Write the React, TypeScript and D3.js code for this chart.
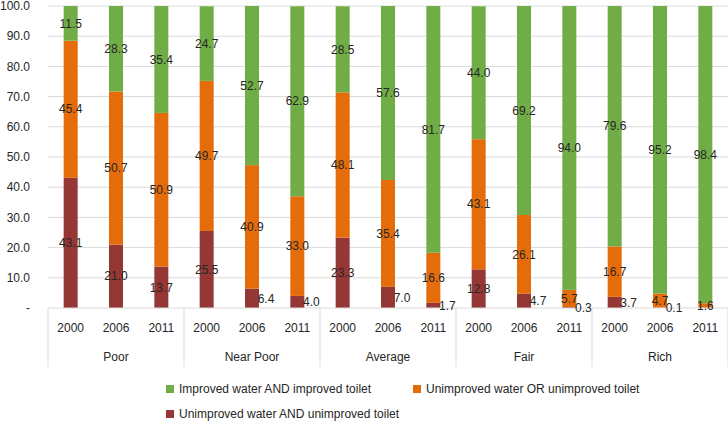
import React from "react";
import * as d3 from "d3";

const groups = ["Poor", "Near Poor", "Average", "Fair", "Rich"];
const years = ["2000", "2006", "2011"];

// per bar, order: Poor 2000, 2006, 2011, Near Poor 2000 ...
const unimprovedBoth = [43.1, 21.0, 13.7, 25.5, 6.4, 4.0, 23.3, 7.0, 1.7, 12.8, 4.7, 0.3, 3.7, 0.1, 0];
const unimprovedEither = [45.4, 50.7, 50.9, 49.7, 40.9, 33.0, 48.1, 35.4, 16.6, 43.1, 26.1, 5.7, 16.7, 4.7, 1.6];
const improvedBoth = [11.5, 28.3, 35.4, 24.7, 52.7, 62.9, 28.5, 57.6, 81.7, 44.0, 69.2, 94.0, 79.6, 95.2, 98.4];

const seriesNames = [
  "Unimproved water AND unimproved toilet",
  "Unimproved water OR unimproved toilet",
  "Improved water AND improved toilet",
];
const colors = ["#953735", "#E46C0A", "#70AD47"];
const yTicks = [0, 10, 20, 30, 40, 50, 60, 70, 80, 90, 100];

const width = 728;
const height = 422;
const margin = { top: 6, right: 0, bottom: 114, left: 48 };
const font = "'Liberation Sans', Arial, sans-serif";
const textColor = "#262626";

const App = () => {
  const bars = groups.flatMap((g) => years.map((y) => `${g}|${y}`));
  const rows = bars.map((key, i) => ({
    key,
    s0: unimprovedBoth[i],
    s1: unimprovedEither[i],
    s2: improvedBoth[i],
  }));
  const stack = d3.stack<any>().keys(["s0", "s1", "s2"])(rows);

  const x = d3
    .scaleBand()
    .domain(bars)
    .range([margin.left, width - margin.right]);
  const y = d3
    .scaleLinear()
    .domain([0, 100])
    .range([height - margin.bottom, margin.top]);
  const bw = 14;
  const y0 = y(0);
  const step = x.step();

  return (
    <svg
      width={width}
      height={height}
      style={{ position: "absolute", left: 0, top: 0, fontFamily: font }}
    >
      <rect width={width} height={height} fill="#fff" />
      {yTicks.map((t) => (
        <g key={t}>
          {t > 0 && (
            <line x1={margin.left} x2={width - margin.right} y1={y(t)} y2={y(t)} stroke="#d9d9d9" />
          )}
          <text x={30} y={y(t)} dy="0.35em" textAnchor="end" fontSize={12} fill={textColor}>
            {t === 0 ? "-" : t.toFixed(1)}
          </text>
        </g>
      ))}

      {stack.map((layer, si) =>
        layer.map((d, i) => {
          const key = bars[i];
          const cx = (x(key) as number) + x.bandwidth() / 2;
          return (
            <rect
              key={si + key}
              x={cx - bw / 2}
              y={y(d[1])}
              width={bw}
              height={Math.max(0, y(d[0]) - y(d[1]))}
              fill={colors[si]}
            />
          );
        })
      )}

      <line x1={margin.left} x2={width} y1={y0} y2={y0} stroke="#d9d9d9" />
      {d3.range(groups.length + 1).map((gi) => {
        const gx = margin.left + gi * step * years.length;
        return <line key={gi} x1={gx} x2={gx} y1={y0} y2={y0 + 59} stroke="#d9d9d9" />;
      })}
      {bars.map((key) => (
        <text
          key={key}
          x={(x(key) as number) + x.bandwidth() / 2}
          y={y0 + 20}
          dy="0.35em"
          textAnchor="middle"
          fontSize={12}
          fill={textColor}
        >
          {key.split("|")[1]}
        </text>
      ))}
      {groups.map((g, gi) => (
        <text
          key={g}
          x={margin.left + (gi + 0.5) * step * years.length}
          y={y0 + 49}
          dy="0.35em"
          textAnchor="middle"
          fontSize={12}
          fill={textColor}
        >
          {g}
        </text>
      ))}

      {stack.map((layer, si) =>
        layer.map((d, i) => {
          const v = d[1] - d[0];
          if (v <= 0) return null;
          const key = bars[i];
          let cx = (x(key) as number) + x.bandwidth() / 2;
          if (si === 0 && v < 8) cx += 14;
          const cy = Math.min(y((d[0] + d[1]) / 2), y0);
          return (
            <text
              key={"l" + si + key}
              x={cx}
              y={cy}
              dy="0.35em"
              textAnchor="middle"
              fontSize={12}
              fill={textColor}
            >
              {v.toFixed(1)}
            </text>
          );
        })
      )}

      {[
        { si: 2, lx: 166, ly: 389 },
        { si: 1, lx: 413, ly: 389 },
        { si: 0, lx: 166, ly: 414 },
      ].map(({ si, lx, ly }) => (
        <g key={si}>
          <rect x={lx} y={ly - 4} width={8} height={8} fill={colors[si]} />
          <text x={lx + 13} y={ly} dy="0.35em" fontSize={12} fill={textColor}>
            {seriesNames[si]}
          </text>
        </g>
      ))}
    </svg>
  );
};

export default App;
